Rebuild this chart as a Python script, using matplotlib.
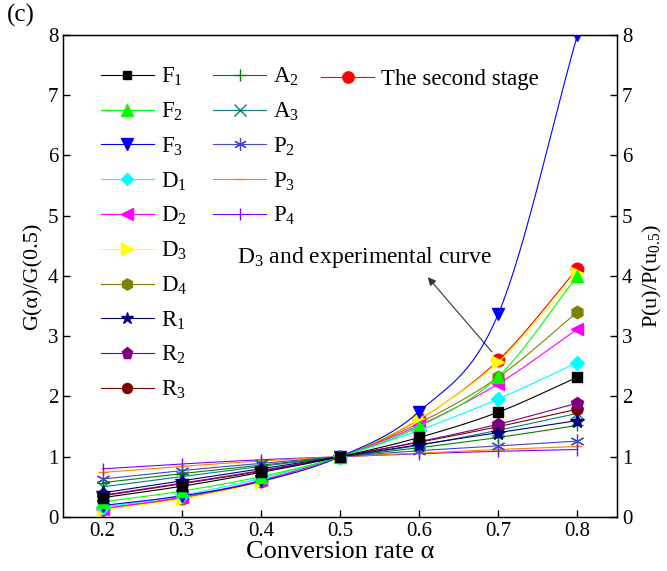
import numpy as np
import matplotlib
matplotlib.use("Agg")
import matplotlib.pyplot as plt
from matplotlib.lines import Line2D

plt.rcParams['font.family'] = ['Liberation Serif', 'DejaVu Serif']
plt.rcParams['mathtext.fontset'] = 'custom'
plt.rcParams['mathtext.rm'] = 'Liberation Serif'
plt.rcParams['mathtext.it'] = 'Liberation Serif:italic'

# conversion rate and normalised kinetic functions G(a)/G(0.5)
alpha = [0.2, 0.3, 0.4, 0.5, 0.6, 0.7, 0.8]
F1 = [0.32, 0.51, 0.74, 1.0, 1.32, 1.74, 2.32]
F2 = [0.25, 0.43, 0.67, 1.0, 1.50, 2.33, 4.00]
F3 = [0.19, 0.35, 0.59, 1.0, 1.75, 3.37, 8.00]
D1 = [0.16, 0.36, 0.64, 1.0, 1.44, 1.96, 2.56]
D2 = [0.14, 0.33, 0.61, 1.0, 1.52, 2.21, 3.12]
D3 = [0.12, 0.30, 0.58, 1.0, 1.63, 2.57, 4.05]
D4 = [0.13, 0.32, 0.60, 1.0, 1.56, 2.32, 3.40]
R1 = [0.40, 0.60, 0.80, 1.0, 1.20, 1.40, 1.60]
R2 = [0.36, 0.56, 0.77, 1.0, 1.25, 1.54, 1.89]
R3 = [0.35, 0.55, 0.76, 1.0, 1.24, 1.50, 1.79]
A2 = [0.57, 0.72, 0.86, 1.0, 1.15, 1.32, 1.52]
A3 = [0.50, 0.67, 0.84, 1.0, 1.19, 1.44, 1.72]
P2 = [0.63, 0.77, 0.89, 1.0, 1.10, 1.18, 1.26]
P3 = [0.74, 0.84, 0.93, 1.0, 1.06, 1.12, 1.17]
P4 = [0.80, 0.88, 0.95, 1.0, 1.05, 1.09, 1.12]
# experimental P(u)/P(u0.5), second stage
stage2 = [0.13, 0.31, 0.59, 1.0, 1.62, 2.60, 4.12]

# name, data, colour, marker, size
models_a = [
    ('F$_1$', F1, '#000000', 's', 7),
    ('F$_2$', F2, '#00FF00', '^', 9),
    ('F$_3$', F3, '#0000FF', 'v', 9),
    ('D$_1$', D1, '#00FFFF', 'D', 7),
    ('D$_2$', D2, '#FF00FF', '<', 9),
    ('D$_3$', D3, '#FFFF00', '>', 9),
    ('D$_4$', D4, '#808000', 'h', 9),
    ('R$_1$', R1, '#000080', '*', 10),
    ('R$_2$', R2, '#800080', 'p', 9),
    ('R$_3$', R3, '#800000', 'o', 8),
]
models_b = [
    ('A$_2$', A2, '#008000', '+', 9),
    ('A$_3$', A3, '#008080', 'x', 9),
    ('P$_2$', P2, '#4646C8', '*', 0),
    ('P$_3$', P3, '#FF8000', '_', 7),
    ('P$_4$', P4, '#8000FF', '|', 9),
]


def smooth(x, y, n=24):
    # Catmull-Rom curve through the points, for drawing the connecting line
    x = np.asarray(x, float)
    y = np.asarray(y, float)
    px = np.concatenate([[2 * x[0] - x[1]], x, [2 * x[-1] - x[-2]]])
    py = np.concatenate([[2 * y[0] - y[1]], y, [2 * y[-1] - y[-2]]])
    t = np.linspace(0, 1, n, endpoint=False)
    xs, ys = [], []
    for i in range(1, len(px) - 2):
        for p, out in ((px, xs), (py, ys)):
            p0, p1, p2, p3 = p[i - 1], p[i], p[i + 1], p[i + 2]
            out.append(0.5 * (2 * p1 + (-p0 + p2) * t
                              + (2 * p0 - 5 * p1 + 4 * p2 - p3) * t ** 2
                              + (-p0 + 3 * p1 - 3 * p2 + p3) * t ** 3))
    xs.append([x[-1]])
    ys.append([y[-1]])
    return np.concatenate(xs), np.concatenate(ys)


fig = plt.figure(figsize=(6.67, 5.71), dpi=100)
ax = fig.add_axes([0.0945, 0.0946, 0.8305, 0.8441])

LW = 0.8


def draw(ax, data, color, marker, ms, z):
    sx, sy = smooth(alpha, data)
    ax.plot(sx, sy, '-', color=color, lw=LW, zorder=z)
    if marker == '*' and ms == 0:
        # asterisk marker for P2
        ax.plot(alpha, data, ls='none', marker=(6, 2, 0), ms=10, mew=0.9,
                color=color, zorder=z + 0.5)
    else:
        ax.plot(alpha, data, ls='none', marker=marker, ms=ms, color=color,
                mec=color, mew=1.0, zorder=z + 0.5)


draw(ax, stage2, '#FF0000', 'o', 9, 1)
for i, (name, data, c, m, s) in enumerate(models_b[::-1] + models_a[::-1]):
    draw(ax, data, c, m, s, 2 + i)


def handle(color, marker, ms):
    if marker == '*' and ms == 0:
        return Line2D([], [], color=color, lw=LW, marker=(6, 2, 0), ms=9, mew=0.9)
    return Line2D([], [], color=color, lw=LW, marker=marker, ms=ms * 0.9, mec=color)


leg_kw = dict(frameon=False, fontsize=16.5, handlelength=2.3, handletextpad=0.3,
              labelspacing=0.545, borderaxespad=0)
leg1 = ax.legend([handle(c, m, s) for _, _, c, m, s in models_a],
                 [n for n, *_ in models_a], loc='upper left',
                 bbox_to_anchor=(0.052, 0.955), **leg_kw)
ax.add_artist(leg1)
leg2 = ax.legend([handle(c, m, s) for _, _, c, m, s in models_b],
                 [n for n, *_ in models_b], loc='upper left',
                 bbox_to_anchor=(0.255, 0.955), **leg_kw)
ax.add_artist(leg2)
ax.legend([handle('#FF0000', 'o', 9)], ['The second stage'], loc='upper left',
          bbox_to_anchor=(0.45, 0.948), **leg_kw)

ax.annotate('', xy=(0.611, 3.98), xytext=(0.692, 2.74),
            arrowprops=dict(arrowstyle='-|>', color='#333333', lw=0.8,
                            mutation_scale=12, shrinkA=0, shrinkB=0))
ax.text(0.37, 4.30, 'D$_3$ and experimental curve', fontsize=17, va='center')

ax.set_xlim(0.15, 0.85)
ax.set_ylim(0, 8)
ax.set_xticks(alpha)
ax.set_yticks(range(9))
ax.tick_params(direction='in', length=5, width=1, labelsize=15, top=False)
ax.set_xlabel('Conversion rate α', fontsize=19, labelpad=0)
ax.set_ylabel('G(α)/G(0.5)', fontsize=16, labelpad=4)
for sp in ax.spines.values():
    sp.set_linewidth(1.0)

ax2 = ax.twinx()
ax2.set_ylim(0, 8)
ax2.set_yticks(range(9))
ax2.tick_params(direction='in', length=5, width=1, labelsize=15)
ax2.set_ylabel('P(u)/P(u$_{0.5}$)', fontsize=16, labelpad=6)

fig.text(0.010, 0.962, '(c)', fontsize=18)

fig.savefig('out.png', dpi=100)
